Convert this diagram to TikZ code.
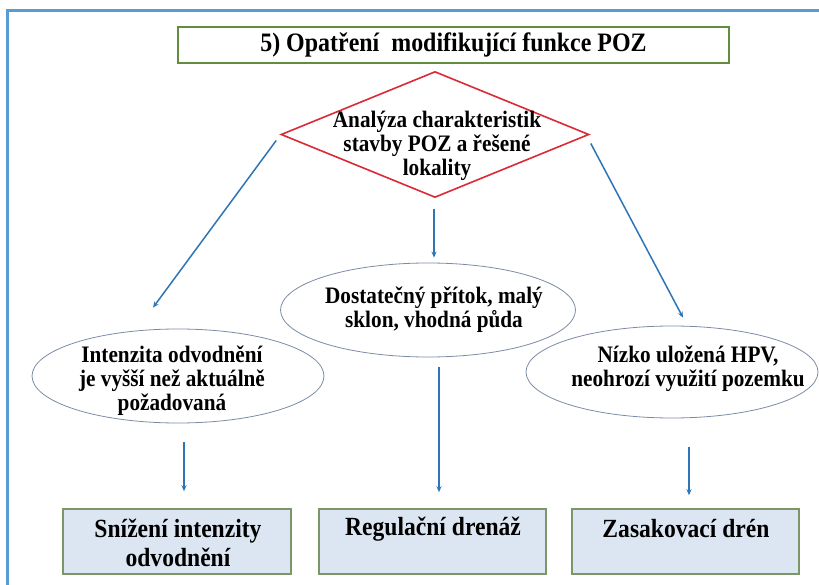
\documentclass[tikz,border=0pt]{standalone}
\usepackage{fontspec}
\setmainfont{LiberationSerif}[Extension=.ttf,UprightFont=*-Regular,BoldFont=*-Bold,FakeStretch=0.9]
\usetikzlibrary{shapes.geometric,arrows.meta}
\definecolor{frameblue}{RGB}{91,155,213}
\definecolor{titlegreen}{RGB}{98,140,62}
\definecolor{diared}{RGB}{218,42,52}
\definecolor{ellgray}{RGB}{125,140,165}
\definecolor{arrblue}{RGB}{46,117,182}
\definecolor{boxfill}{RGB}{220,230,242}
\definecolor{boxedge}{RGB}{125,150,105}
\tikzset{
  frameline/.style={draw=frameblue,line width=3pt},
  titlebox/.style={draw=titlegreen,line width=2pt,fill=white,rectangle,inner sep=0pt,minimum width=551pt,minimum height=36pt},
  diabox/.style={draw=diared,line width=1.6pt,diamond,inner sep=0pt,minimum width=308pt,minimum height=126pt},
  ellbox/.style={draw=ellgray,line width=0.8pt,ellipse,inner sep=0pt},
  resbox/.style={draw=boxedge,line width=1.5pt,fill=boxfill,rectangle,inner sep=0pt,minimum height=65pt},
  bodytxt/.style={font=\fontsize{23.6}{24}\selectfont\bfseries,align=center,inner sep=0pt},
  restxt/.style={font=\fontsize{26.2}{29}\selectfont\bfseries,align=center,inner sep=0pt},
  arr/.style={draw=arrblue,line width=1.5pt,-{Stealth[length=6pt,width=5pt]}}
}
\begin{document}
\begin{tikzpicture}[x=1pt,y=-1pt]
\clip (0,0) rectangle (819,585);
\fill[white] (0,0) rectangle (819,585);
\draw[frameline] (7,640) -- (7,11) -- (880,11);
% title
\node[titlebox] (title) at (453.5,45) {};
\node[font=\fontsize{26.6}{28}\selectfont\bfseries,inner sep=0pt] (titlet) at (453.5,45) {5) Opatření\ \ modifikující\ funkce POZ};
% diamond
\node[diabox] (dia) at (435,134.5) {};
\node[bodytxt] (diat) at (437,146) {Analýza charakteristik\\stavby POZ a řešené\\lokality};
% ellipses
\node[ellbox,minimum width=292pt,minimum height=94pt] (lell) at (178,376) {};
\node[bodytxt] (lellt) at (172,381) {Intenzita odvodnění\\je vyšší než aktuálně\\požadovaná};
\node[ellbox,minimum width=295pt,minimum height=94pt] (mell) at (428,310) {};
\node[bodytxt] (mellt) at (434,310) {Dostatečný přítok, malý\\sklon, vhodná půda};
\node[ellbox,minimum width=292pt,minimum height=92pt] (rell) at (672,372) {};
\node[bodytxt] (rellt) at (688,369) {Nízko uložená HPV,\\neohrozí využití pozemku};
% result boxes
\node[resbox,minimum width=228pt] (lbox) at (177,541.5) {};
\node[restxt] (lboxt) at (178,542.5) {Snížení intenzity\\odvodnění};
\node[resbox,minimum width=227pt] (mbox) at (432.5,541.5) {};
\node[restxt] (mboxt) at (433,529) {Regulační drenáž};
\node[resbox,minimum width=227pt] (rbox) at (685.5,541.5) {};
\node[restxt] (rboxt) at (686,529) {Zasakovací drén};
% arrows from diamond
\draw[arr] ([shift={(-4,6)}]dia.west) -- ([shift={(-25,-21)}]lell.north);
\draw[arr] ([shift={(-1,11)}]dia.south) -- ([shift={(6,-5)}]mell.north);
\draw[arr] ([shift={(1,9)}]dia.east) -- ([shift={(11,-8)}]rell.north);
% arrows to boxes
\draw[arr] ([shift={(6,19)}]lell.south) -- ([shift={(7,-17)}]lbox.north);
\draw[arr] ([shift={(11,10)}]mell.south) -- ([shift={(6.5,-16)}]mbox.north);
\draw[arr] ([shift={(17,29)}]rell.south) -- ([shift={(3.5,-13)}]rbox.north);
\end{tikzpicture}
\end{document}
